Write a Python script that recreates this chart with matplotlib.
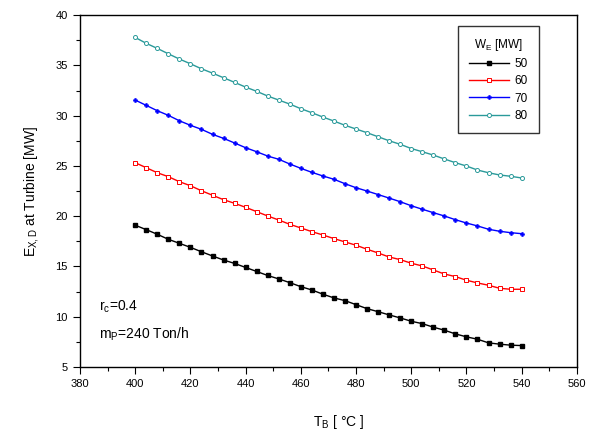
import numpy as np
import matplotlib
matplotlib.use("Agg")
import matplotlib.pyplot as plt
from matplotlib.ticker import MultipleLocator

plt.rcParams['font.family'] = ['Liberation Sans', 'DejaVu Sans']
plt.rcParams['mathtext.fontset'] = 'custom'
plt.rcParams['mathtext.rm'] = 'Liberation Sans'
plt.rcParams['mathtext.it'] = 'Liberation Sans'

T_B = list(range(400, 541, 4))

we_50 = [19.10, 18.66, 18.20, 17.70, 17.30, 16.90, 16.46, 16.04, 15.64, 15.30, 14.90, 14.50, 14.10,
         13.76, 13.39, 12.99, 12.66, 12.24, 11.87, 11.60, 11.20, 10.80, 10.50, 10.18, 9.88, 9.55,
         9.31, 8.96, 8.66, 8.29, 8.00, 7.76, 7.40, 7.27, 7.17, 7.13]
we_60 = [25.32, 24.82, 24.32, 23.93, 23.43, 23.03, 22.53, 22.08, 21.64, 21.28, 20.88, 20.45, 20.02,
         19.62, 19.19, 18.83, 18.46, 18.13, 17.77, 17.44, 17.11, 16.71, 16.34, 15.94, 15.68, 15.32,
         15.05, 14.65, 14.25, 13.99, 13.63, 13.36, 13.13, 12.83, 12.73, 12.73]
we_70 = [31.55, 31.02, 30.49, 30.03, 29.49, 29.04, 28.64, 28.14, 27.74, 27.28, 26.81, 26.41, 25.98,
         25.66, 25.19, 24.76, 24.36, 24.00, 23.67, 23.23, 22.83, 22.50, 22.15, 21.80, 21.44, 21.04,
         20.69, 20.35, 20.02, 19.65, 19.32, 19.03, 18.70, 18.50, 18.36, 18.26]
we_80 = [37.78, 37.19, 36.69, 36.15, 35.63, 35.16, 34.66, 34.23, 33.77, 33.31, 32.84, 32.42, 31.95,
         31.55, 31.15, 30.69, 30.29, 29.86, 29.46, 29.04, 28.67, 28.30, 27.90, 27.50, 27.15, 26.73,
         26.41, 26.08, 25.69, 25.32, 24.99, 24.59, 24.32, 24.10, 23.97, 23.80]

series_labels = ['50', '60', '70', '80']

fig = plt.figure(figsize=(5.99, 4.32), dpi=100)
ax = fig.add_axes([0.1336, 0.1505, 0.963 - 0.1336, 0.965 - 0.1505])

ax.plot(T_B, we_50, color='black', lw=1.0, marker='s', ms=2.6, mfc='black', mec='black', label=series_labels[0])
ax.plot(T_B, we_60, color='#FF0000', lw=1.0, marker='s', ms=2.8, mfc='white', mec='#FF0000', mew=0.7, label=series_labels[1])
ax.plot(T_B, we_70, color='#0000FF', lw=1.0, marker='P', ms=3.0, mfc='#0000FF', mec='#0000FF', mew=0.4, label=series_labels[2])
ax.plot(T_B, we_80, color='#2A9A9A', lw=1.0, marker='o', ms=2.9, mfc='white', mec='#2A9A9A', mew=0.7, label=series_labels[3])

ax.set_xlim(380, 560)
ax.set_ylim(5, 40)
ax.xaxis.set_major_locator(MultipleLocator(20))
ax.xaxis.set_minor_locator(MultipleLocator(10))
ax.yaxis.set_major_locator(MultipleLocator(5))
ax.yaxis.set_minor_locator(MultipleLocator(2.5))
ax.tick_params(which='major', direction='out', length=5, width=0.8, labelsize=8, pad=4)
ax.tick_params(which='minor', direction='out', length=3, width=0.8)
for s in ax.spines.values():
    s.set_linewidth(1.0)

ax.set_xlabel(r'T$_{\mathregular{B}}$ [ °C ]', fontsize=10)
ax.xaxis.set_label_coords(0.52, -0.13)
ax.set_ylabel(r'E$_{\mathregular{X,D}}$ at Turbine [MW]', fontsize=10)
ax.yaxis.set_label_coords(-0.078, 0.5)

ax.text(0.038, 0.16, r'r$_{\mathregular{c}}$=0.4', transform=ax.transAxes, fontsize=10)
ax.text(0.038, 0.08, r'm$_{\mathregular{P}}$=240 Ton/h', transform=ax.transAxes, fontsize=10)

leg = ax.legend(title=r'W$_{\mathregular{E}}$ [MW]', loc='upper right', bbox_to_anchor=(0.923, 0.969),
                borderaxespad=0.0,
                fontsize=8.5, title_fontsize=8.5, frameon=True, fancybox=False, edgecolor='black',
                handlelength=3.4, handletextpad=0.5, borderpad=0.9, labelspacing=0.45)
leg.get_frame().set_linewidth(1.0)

fig.savefig('out.png', dpi=100)
